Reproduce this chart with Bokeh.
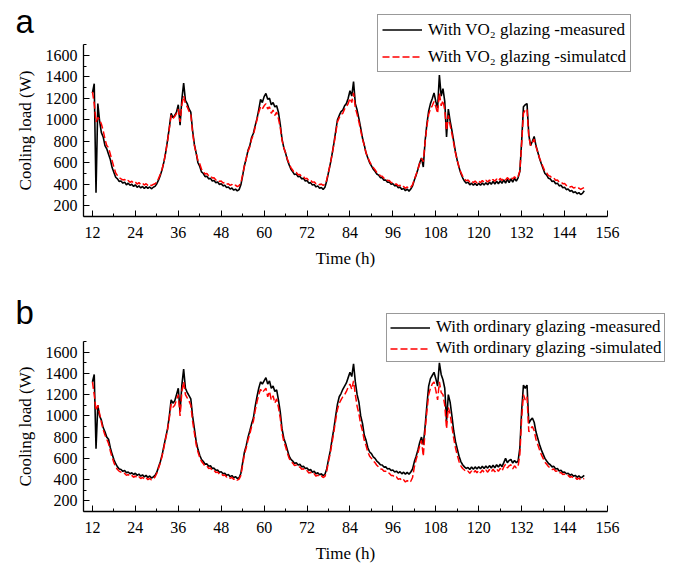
import numpy as np
from bokeh.plotting import figure
from bokeh.models import Range1d, FixedTicker, Legend, LegendItem, Label
from bokeh.layouts import column
from bokeh.embed import file_html
from bokeh.resources import INLINE

# ---------------- data (cooling load in W, sampled every 0.5 h from t = 12 h) ----------------
T_START = 12.0
T_STEP = 0.5

x_ticks = [12, 24, 36, 48, 60, 72, 84, 96, 108, 120, 132, 144, 156]
x_minor = [18, 30, 42, 54, 66, 78, 90, 102, 114, 126, 138, 150]
y_ticks = [200, 400, 600, 800, 1000, 1200, 1400, 1600]
y_minor = [100, 300, 500, 700, 900, 1100, 1300, 1500, 1700]

a_measured = [
    1250, 1335, 320, 1150, 990, 880, 840, 760, 730, 680, 630, 555, 510, 465, 450, 425, 430, 410, 420, 395, 410, 390, 400, 380,
    395, 372, 385, 365, 380, 360, 378, 362, 375, 358, 372, 380, 405, 440, 485, 540, 610, 700, 810, 930, 1060, 1020, 1040, 1070,
    1140, 950, 1190, 1340, 1180, 1150, 1100, 1070, 900, 770, 690, 600, 565, 515, 500, 470, 475, 450, 455, 430, 435, 415, 420, 398,
    405, 385, 390, 370, 375, 355, 365, 345, 355, 338, 350, 395, 480, 575, 640, 715, 760, 835, 875, 945, 1010, 1095, 1190, 1160,
    1215, 1245, 1190, 1200, 1140, 1160, 1120, 1130, 1070, 960, 820, 740, 690, 625, 580, 540, 515, 490, 495, 470, 475, 450, 455, 430,
    435, 410, 415, 392, 398, 375, 385, 362, 370, 352, 372, 430, 510, 590, 680, 780, 890, 1000, 1040, 1075, 1090, 1130, 1150, 1200,
    1270, 1220, 1355, 1150, 1090, 1010, 925, 830, 765, 690, 645, 600, 570, 540, 520, 495, 485, 462, 460, 438, 440, 418, 420, 400,
    405, 385, 390, 368, 375, 352, 362, 340, 355, 336, 355, 385, 440, 485, 540, 600, 645, 560, 800, 960, 1080, 1150, 1195, 1250,
    1170, 1110, 1415, 1220, 1290, 1170, 840, 1100, 990, 900, 800, 700, 620, 555, 500, 460, 430, 410, 420, 395, 410, 390, 408, 388,
    410, 390, 412, 392, 415, 395, 420, 400, 425, 402, 428, 405, 432, 408, 440, 410, 445, 415, 450, 420, 455, 430, 460, 520,
    800, 1120, 1140, 1150, 860, 760, 800, 845, 760, 700, 640, 590, 545, 500, 485, 455, 450, 425, 430, 405, 410, 385, 390, 368,
    372, 350, 356, 335, 342, 322, 330, 312, 322, 305, 315, 340,
]

a_simulated = [
    1260, 1150, 980, 1020, 1000, 960, 900, 820, 760, 740, 680, 620, 560, 505, 480, 460, 450, 440, 445, 425, 435, 418, 428, 410,
    420, 402, 415, 398, 410, 392, 405, 390, 400, 388, 398, 405, 420, 455, 495, 545, 610, 700, 800, 920, 1040, 1010, 1030, 1060,
    1100, 980, 1140, 1220, 1150, 1120, 1080, 1050, 880, 760, 690, 620, 590, 540, 520, 495, 500, 478, 480, 458, 460, 440, 445, 425,
    430, 412, 418, 400, 405, 390, 398, 382, 392, 378, 388, 410, 490, 570, 640, 705, 750, 820, 860, 930, 1000, 1070, 1120, 1100,
    1130, 1150, 1100, 1120, 1060, 1090, 1040, 1070, 1010, 930, 810, 740, 690, 635, 590, 555, 530, 505, 510, 488, 490, 470, 472, 450,
    455, 432, 438, 418, 422, 405, 412, 395, 402, 390, 400, 440, 515, 590, 675, 770, 870, 980, 1020, 1050, 1060, 1100, 1120, 1150,
    1200, 1160, 1250, 1110, 1050, 980, 900, 820, 760, 690, 650, 610, 580, 555, 535, 510, 500, 478, 475, 455, 455, 435, 435, 415,
    418, 400, 402, 385, 390, 372, 380, 362, 375, 360, 372, 395, 445, 490, 540, 595, 640, 610, 790, 940, 1050, 1100, 1130, 1170,
    1120, 1060, 1250, 1130, 1180, 1090, 900, 1040, 950, 870, 780, 690, 620, 560, 510, 475, 450, 432, 440, 420, 432, 415, 430, 412,
    432, 414, 435, 418, 438, 420, 440, 424, 445, 428, 448, 430, 455, 435, 458, 440, 462, 445, 466, 448, 470, 452, 472, 525,
    780, 1060, 1090, 1100, 840, 760, 790, 820, 750, 700, 645, 600, 560, 520, 505, 480, 475, 455, 458, 438, 440, 420, 422, 405,
    408, 388, 392, 375, 380, 365, 370, 358, 365, 352, 362, 370,
]

b_measured = [
    1320, 1390, 690, 1100, 1000, 960, 890, 850, 800, 780, 700, 640, 590, 550, 520, 500, 495, 478, 485, 465, 472, 455, 465, 448,
    460, 440, 452, 432, 445, 425, 440, 420, 435, 415, 425, 440, 470, 520, 570, 635, 720, 800, 880, 1000, 1150, 1120, 1140, 1200,
    1260, 1040, 1290, 1440, 1260, 1220, 1190, 1160, 1000, 880, 760, 685, 630, 590, 570, 545, 548, 525, 530, 505, 508, 488, 490, 470,
    475, 455, 460, 440, 448, 428, 438, 418, 428, 410, 418, 460, 560, 660, 720, 800, 860, 925, 980, 1090, 1180, 1260, 1320, 1300,
    1330, 1360, 1300, 1330, 1260, 1280, 1230, 1245, 1150, 1040, 880, 790, 740, 680, 620, 590, 575, 552, 560, 538, 545, 520, 525, 505,
    510, 488, 495, 470, 478, 455, 465, 445, 455, 438, 450, 500, 590, 670, 780, 880, 1000, 1110, 1180, 1210, 1250, 1280, 1310, 1360,
    1410, 1370, 1490, 1320, 1200, 1130, 1000, 930, 820, 770, 700, 660, 645, 615, 600, 575, 560, 540, 538, 518, 520, 500, 505, 485,
    490, 472, 480, 462, 475, 455, 470, 452, 468, 450, 472, 500, 570, 620, 680, 750, 800, 730, 900, 1100, 1280, 1350, 1380, 1410,
    1350, 1280, 1500, 1390, 1340, 1260, 950, 1200, 1130, 1000, 860, 760, 690, 620, 570, 540, 520, 505, 515, 495, 518, 498, 520, 500,
    522, 502, 525, 505, 528, 508, 532, 510, 535, 512, 540, 518, 545, 522, 560, 600, 560, 580, 590, 555, 580, 560, 575, 700,
    1050, 1290, 1260, 1290, 930, 960, 980, 940, 850, 790, 730, 680, 640, 600, 575, 552, 540, 520, 525, 500, 505, 482, 488, 468,
    472, 455, 460, 442, 450, 432, 440, 422, 435, 418, 425, 440,
]

b_simulated = [
    1320, 1200, 1050, 1100, 1020, 940, 870, 820, 780, 740, 670, 610, 560, 520, 495, 478, 470, 455, 460, 440, 448, 430, 440, 422,
    435, 415, 428, 410, 422, 405, 418, 400, 412, 398, 405, 425, 460, 510, 560, 625, 705, 790, 870, 980, 1110, 1080, 1100, 1150,
    1200, 1000, 1230, 1320, 1200, 1170, 1140, 1100, 950, 840, 730, 660, 610, 570, 550, 525, 528, 505, 510, 485, 488, 468, 472, 452,
    458, 438, 444, 425, 432, 412, 422, 402, 412, 395, 405, 440, 540, 640, 700, 775, 830, 900, 950, 1050, 1130, 1200, 1250, 1220,
    1240, 1260, 1180, 1230, 1150, 1190, 1120, 1160, 1080, 980, 840, 760, 710, 650, 600, 570, 555, 532, 538, 515, 520, 498, 502, 480,
    485, 462, 470, 448, 455, 432, 442, 425, 435, 420, 430, 480, 570, 650, 750, 850, 960, 1060, 1120, 1150, 1180, 1200, 1230, 1270,
    1300, 1250, 1330, 1200, 1090, 1020, 920, 860, 770, 720, 660, 620, 600, 575, 560, 535, 520, 500, 498, 478, 478, 458, 460, 440,
    440, 418, 425, 402, 410, 388, 398, 378, 392, 372, 385, 420, 520, 590, 650, 720, 770, 620, 860, 1040, 1200, 1260, 1300, 1320,
    1240, 1150, 1320, 1220, 1200, 1100, 880, 1080, 1020, 900, 790, 700, 630, 570, 530, 505, 490, 472, 480, 460, 482, 462, 485, 465,
    488, 465, 490, 468, 492, 470, 495, 472, 498, 474, 502, 478, 505, 480, 520, 545, 510, 530, 540, 500, 530, 510, 525, 640,
    980, 1200, 1150, 1180, 850, 880, 900, 860, 780, 730, 680, 635, 600, 565, 545, 522, 512, 495, 500, 478, 482, 462, 468, 448,
    452, 435, 440, 422, 430, 412, 420, 402, 415, 398, 405, 410,
]

a_labels = ["With VO\u2082 glazing -measured", "With VO\u2082 glazing -simulatcd"]
b_labels = ["With ordinary glazing -measured", "With ordinary glazing -simulated"]

X_AXIS_BOUNDS = (9.5, 156)
Y_AXIS_BOUNDS = (100, 1700)

SERIF = "Liberation Serif"
SANS = "Liberation Sans"

FIG_W = 679
FRAME_LEFT = 83     # pixels from figure left to the y axis
FRAME_W = 524       # pixel length of the x axis


def make_panel(meas, sim, labels, letter, height, axis_top, axis_len, leg_loc, leg_pad, leg_spacing,
               leg_row_h, letter_y):
    # the whole figure is the frame; axes are drawn at fixed data positions
    xs = FRAME_W / (X_AXIS_BOUNDS[1] - X_AXIS_BOUNDS[0])
    x0 = X_AXIS_BOUNDS[0] - FRAME_LEFT / xs
    x1 = X_AXIS_BOUNDS[0] + (FIG_W - FRAME_LEFT) / xs
    ys = axis_len / (Y_AXIS_BOUNDS[1] - Y_AXIS_BOUNDS[0])
    y1 = Y_AXIS_BOUNDS[1] + axis_top / ys
    y0 = Y_AXIS_BOUNDS[0] - (height - axis_top - axis_len) / ys

    t_meas = T_START + T_STEP * np.arange(len(meas))
    t_sim = T_START + T_STEP * np.arange(len(sim))
    p = figure(width=FIG_W, height=height, output_backend="svg", toolbar_location=None,
               x_range=Range1d(x0, x1), y_range=Range1d(y0, y1),
               min_border_left=0, min_border_right=0, min_border_top=0, min_border_bottom=0)
    p.outline_line_color = None
    p.xgrid.visible = False
    p.ygrid.visible = False
    p.background_fill_color = "white"
    p.border_fill_color = "white"

    r1 = p.line(t_meas, meas, line_color="black", line_width=1.6)
    r2 = p.line(t_sim, sim, line_color="#ff0000", line_width=1.5, line_dash="7 3")

    p.xaxis.ticker = FixedTicker(ticks=x_ticks, minor_ticks=x_minor)
    p.yaxis.ticker = FixedTicker(ticks=y_ticks, minor_ticks=y_minor)
    p.xaxis.fixed_location = Y_AXIS_BOUNDS[0]
    p.yaxis.fixed_location = X_AXIS_BOUNDS[0]
    p.xaxis.bounds = X_AXIS_BOUNDS
    p.yaxis.bounds = Y_AXIS_BOUNDS
    p.xaxis.axis_label = "Time (h)"
    p.yaxis.axis_label = "Cooling load (W)"
    for ax in (p.xaxis, p.yaxis):
        ax.axis_line_color = "black"
        ax.axis_line_width = 1.3
        ax.major_tick_line_color = "black"
        ax.minor_tick_line_color = "black"
        ax.major_tick_in = 6
        ax.major_tick_out = 0
        ax.minor_tick_in = 3
        ax.minor_tick_out = 0
        ax.major_label_text_font = SERIF
        ax.major_label_text_font_size = "16px"
        ax.major_label_text_color = "black"
        ax.axis_label_text_font = SERIF
        ax.axis_label_text_font_size = "17px"
        ax.axis_label_text_font_style = "normal"
        ax.axis_label_text_color = "black"
    p.xaxis.major_label_standoff = 10
    p.xaxis.axis_label_standoff = 8
    p.yaxis.major_label_standoff = 6
    p.yaxis.axis_label_standoff = 8

    legend = Legend(items=[LegendItem(label=labels[0], renderers=[r1]),
                           LegendItem(label=labels[1], renderers=[r2])],
                    location=leg_loc)
    legend.label_text_font = SERIF
    legend.label_text_font_size = "17px"
    legend.label_text_color = "black"
    legend.glyph_width = 40
    legend.glyph_height = leg_row_h
    legend.label_height = leg_row_h
    legend.label_standoff = 6
    legend.padding = leg_pad
    legend.spacing = leg_spacing
    legend.margin = 0
    legend.border_line_color = "#333333"
    legend.border_line_width = 1
    legend.background_fill_color = "white"
    legend.background_fill_alpha = 1.0
    p.add_layout(legend)

    p.add_layout(Label(x=15, y=letter_y, x_units="screen", y_units="screen", text=letter,
                       text_font=SANS, text_font_size="33px", text_color="black",
                       text_baseline="alphabetic"))
    return p


# panel a occupies page y 0..288, panel b page y 288..565
p1 = make_panel(a_measured, a_simulated, a_labels, "a", 288, 44, 172, (377, 216), 4, 6, 21, 267)
p2 = make_panel(b_measured, b_simulated, b_labels, "b", 277, 53, 170, (386, 203), 3, 1, 19, 253)

layout = column(p1, p2)
open("out.html", "w").write(file_html(layout, INLINE))
